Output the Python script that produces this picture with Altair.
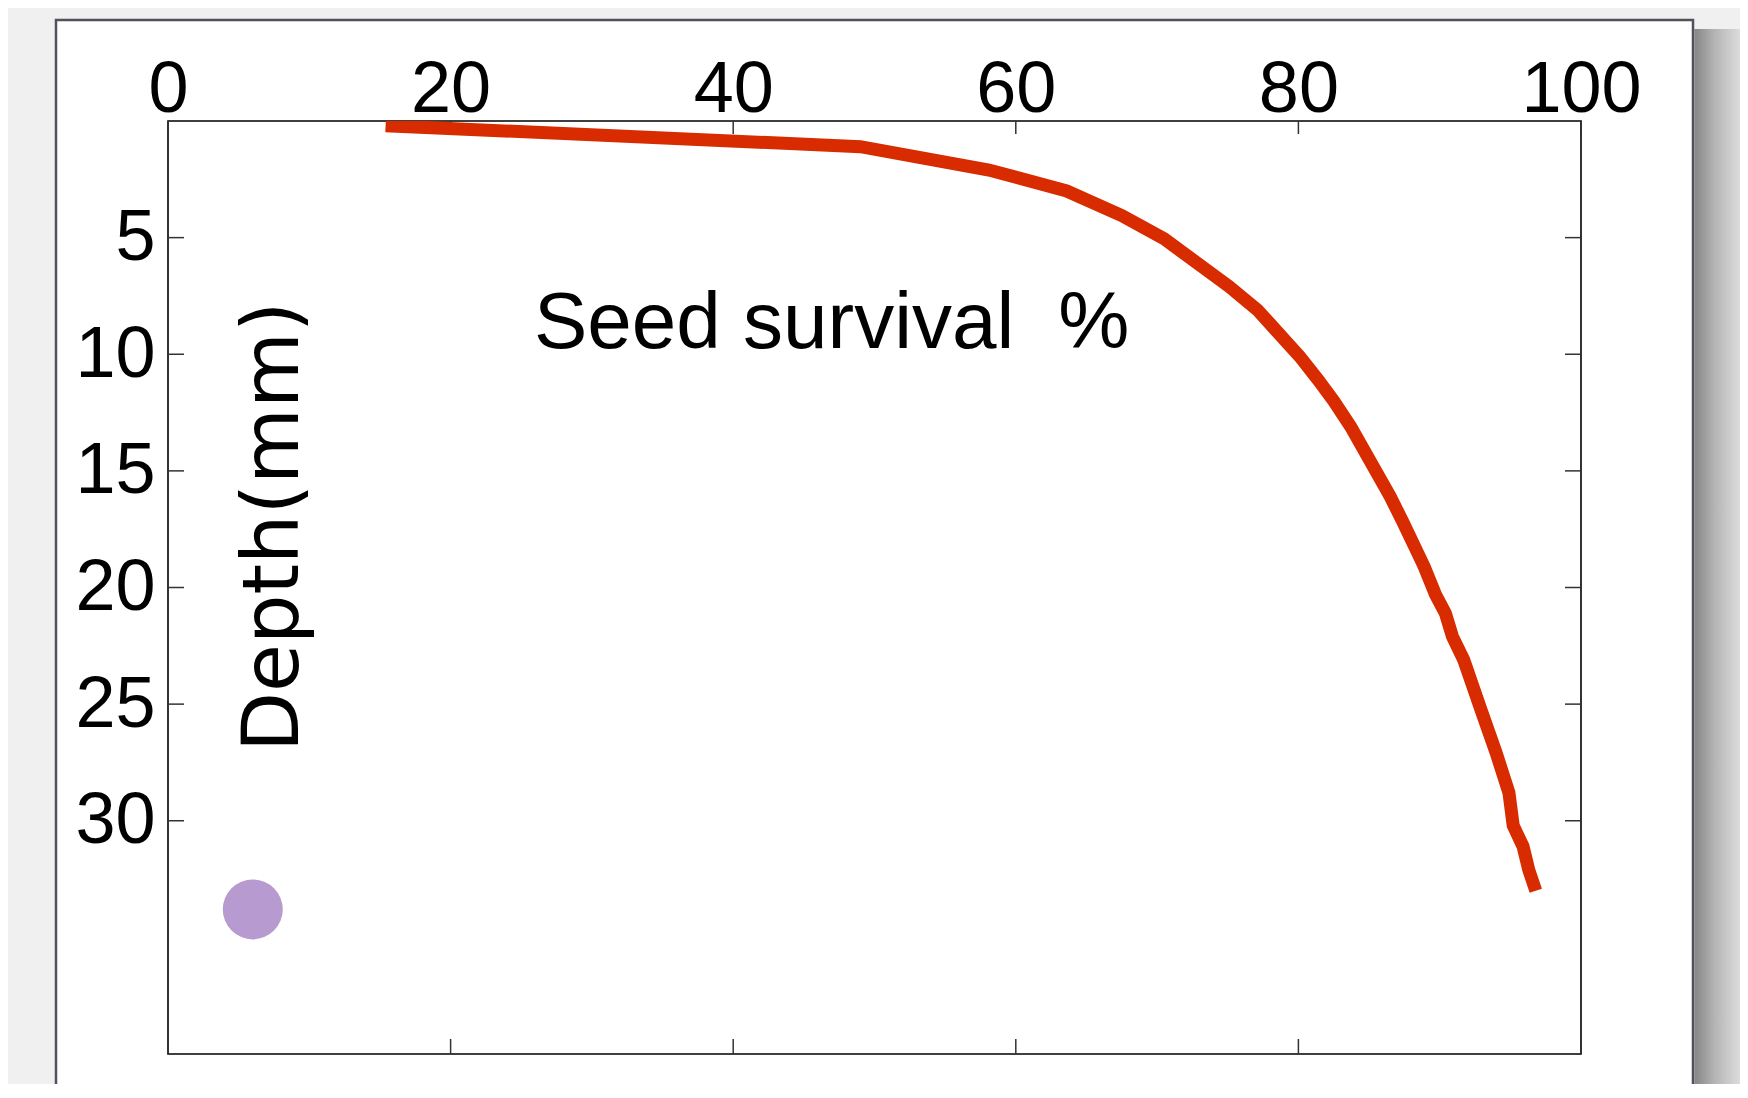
import altair as alt
import pandas as pd

# ---- data ----
survival = [15.4, 49.0, 58.1, 63.6, 67.5, 70.5, 75.1, 77.1, 80.1, 81.4, 82.5, 83.7,
            86.5, 87.4, 88.9, 89.7, 90.4, 90.9, 91.7, 92.9, 94.0, 94.9, 95.2, 95.9,
            96.3, 96.8]
depth = [0.2, 1.1, 2.1, 3.0, 4.05, 5.05, 7.1, 8.1, 10.1, 11.1, 12.0, 13.1,
         16.1, 17.2, 19.1, 20.3, 21.1, 22.1, 23.1, 25.2, 27.1, 28.8, 30.2, 31.1,
         32.1, 33.0]

x_ticks = [0, 20, 40, 60, 80, 100]
y_ticks = [5, 10, 15, 20, 25, 30]

dot_x = [6.0]
dot_y = [33.8]

note_text = ["Seed survival", "%"]
note_x = [25.9, 63.0]
note_y = [9.72, 9.72]

ylab_text = ["Depth(mm)"]
ylab_x = [9.2]
ylab_y = [17.4]

W, H = 1413, 933
RED = "#D82B00"
PURPLE = "#B79BD0"
FONT = "Liberation Sans, Arial, sans-serif"

xs = alt.Scale(domain=[0, 100], nice=False, zero=False)
ys = alt.Scale(domain=[0, 40], reverse=True, nice=False, zero=False)

curve = pd.DataFrame({"survival": survival, "depth": depth, "i": list(range(len(survival)))})
one = alt.Data(values=[{}])

# decorative slide frame and its shadow
frame = alt.Chart(one).mark_rect(fill="white", stroke="#4f525b", strokeWidth=2.5).encode(
    x=alt.value(-112), x2=alt.value(1525), y=alt.value(-101), y2=alt.value(1100)
)
shadow = alt.Chart(one).mark_rect(
    fill=alt.LinearGradient(
        gradient="linear",
        stops=[alt.GradientStop(offset=0, color="#858585"),
               alt.GradientStop(offset=0.35, color="#b5b5b5"),
               alt.GradientStop(offset=1, color="#f0f0f0")],
        x1=0, x2=1, y1=0, y2=0,
    )
).encode(x=alt.value(1526.3), x2=alt.value(1585), y=alt.value(-92), y2=alt.value(1100))

# plot border
border = alt.Chart(pd.DataFrame({"x0": [0], "x1": [100], "y0": [0], "y1": [40]})).mark_rect(
    fillOpacity=0, stroke="black", strokeWidth=1.6
).encode(
    x=alt.X("x0:Q", scale=xs, axis=None), x2="x1:Q",
    y=alt.Y("y0:Q", scale=ys, axis=None), y2="y1:Q",
)

xt = pd.DataFrame({"t": x_ticks})
yt = pd.DataFrame({"t": y_ticks})
tick_style = dict(color="#333333", strokeWidth=1.5)
top_ticks = alt.Chart(xt).mark_rule(**tick_style).encode(
    x=alt.X("t:Q", scale=xs, axis=None), y=alt.value(0), y2=alt.value(13))
bottom_ticks = alt.Chart(xt).mark_rule(**tick_style).encode(
    x=alt.X("t:Q", scale=xs, axis=None), y=alt.value(H - 15), y2=alt.value(H))
left_ticks = alt.Chart(yt).mark_rule(**tick_style).encode(
    y=alt.Y("t:Q", scale=ys, axis=None), x=alt.value(0), x2=alt.value(16))
right_ticks = alt.Chart(yt).mark_rule(**tick_style).encode(
    y=alt.Y("t:Q", scale=ys, axis=None), x=alt.value(W - 16), x2=alt.value(W))

axis_common = dict(
    domain=False, ticks=False, tickSize=0, grid=False, title="",
    labelFont=FONT, labelFontSize=72, labelColor="black",
    labelFlush=False, labelOverlap=False, labelBound=False, zindex=1,
)

line = alt.Chart(curve).mark_line(color=RED, strokeWidth=13, clip=True, strokeCap="butt").encode(
    x=alt.X("survival:Q", scale=xs,
            axis=alt.Axis(orient="top", values=x_ticks, labelPadding=10,
                          labelBaseline="alphabetic", **axis_common)),
    y=alt.Y("depth:Q", scale=ys,
            axis=alt.Axis(orient="left", values=y_ticks, labelPadding=13,
                          labelBaseline="middle", **axis_common)),
    order="i:Q",
)

dot = alt.Chart(pd.DataFrame({"x": dot_x, "y": dot_y})).mark_circle(
    size=3600, color=PURPLE, opacity=1
).encode(x=alt.X("x:Q", scale=xs, axis=None), y=alt.Y("y:Q", scale=ys, axis=None))

notes = alt.Chart(pd.DataFrame({"x": note_x, "y": note_y, "t": note_text})).mark_text(
    align="left", baseline="alphabetic", font=FONT, fontSize=80, color="black"
).encode(x=alt.X("x:Q", scale=xs, axis=None), y=alt.Y("y:Q", scale=ys, axis=None), text="t:N")

ylab = alt.Chart(pd.DataFrame({"x": ylab_x, "y": ylab_y, "t": ylab_text})).mark_text(
    angle=270, align="center", baseline="alphabetic", font="DejaVu Sans", fontSize=78, color="black"
).encode(x=alt.X("x:Q", scale=xs, axis=None), y=alt.Y("y:Q", scale=ys, axis=None), text="t:N")

chart = alt.layer(
    frame, shadow, border, top_ticks, bottom_ticks, left_ticks, right_ticks,
    line, dot, notes, ylab,
).resolve_axis(x="independent", y="independent").properties(
    width=W, height=H,
    padding={"left": 160, "top": 113, "right": 159, "bottom": 30},
    autosize=alt.AutoSizeParams(type="none"),
    background="#f0f0f0",
).configure_view(strokeWidth=0)

chart.save("out.html", embed_options={"renderer": "svg", "actions": False})
